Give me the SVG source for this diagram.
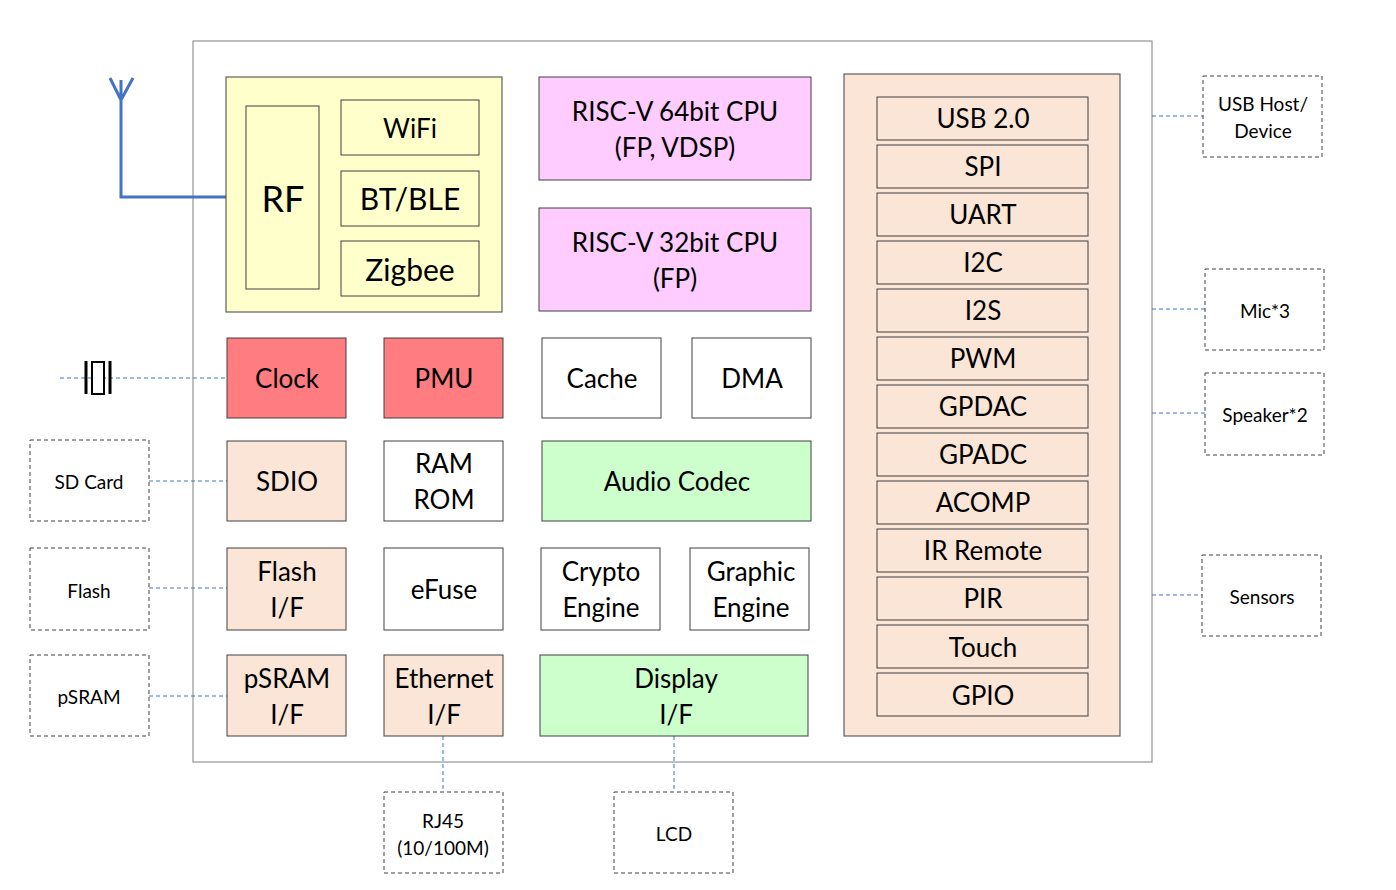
<svg xmlns="http://www.w3.org/2000/svg" width="1396" height="890" viewBox="0 0 1396 890">
<style>
text{font-family:Lato,"Open Sans","Liberation Sans",sans-serif;fill:#000;text-anchor:middle;dominant-baseline:central}
.b{stroke:#404040;stroke-width:1}
.t{font-size:26px}
.s{font-size:19px}
.ext{fill:#fff;stroke:#404040;stroke-dasharray:4 3}
.c{stroke:#4472C4;stroke-width:1;stroke-dasharray:4 3;fill:none}
.pk{fill:#FFCCFF}.rd{fill:#FF7C80}.pe{fill:#FBE5D6}.gr{fill:#CCFFCC}.wh{fill:#fff}.ye{fill:#FFFFCC}
</style>
<rect width="1396" height="890" fill="#fff"/>
<rect x="193" y="41" width="959" height="721" fill="#fff" stroke="#7f7f7f"/>
<g id="connectors">
<path class="c" d="M1152 116H1203M1152 309H1205M1152 413H1205M1152 595H1202M149 481H227M149 588H227M149 696H227M60 378H227M443 736V792M674 736V792"/>
<path d="M121 80V197H246M110 78L121 100L133 78" fill="none" stroke="#4472C4" stroke-width="3"/>
<g stroke="#000" stroke-width="3"><path d="M86 361V394M110 361V394"/></g>
<rect x="92" y="362" width="12" height="32" fill="#fff" stroke="#000" stroke-width="2"/>
</g>
<g id="rfgroup"><rect class="b ye" x="226" y="77" width="276" height="235"/></g>
<g id="rf"><rect class="b ye" x="246" y="106" width="73" height="183"/><text x="283" y="198" font-size="36">RF</text></g>
<g id="wifi"><rect class="b ye" x="341" y="100" width="138" height="55"/><text class="t" x="410" y="128" font-size="30">WiFi</text></g>
<g id="bt"><rect class="b ye" x="341" y="171" width="138" height="55"/><text x="410" y="198" font-size="30">BT/BLE</text></g>
<g id="zigbee"><rect class="b ye" x="341" y="241" width="138" height="55"/><text x="410" y="269" font-size="30">Zigbee</text></g>
<g id="cpu64"><rect class="b pk" x="539" y="77" width="272" height="103"/><text class="t" x="675" y="111">RISC-V 64bit CPU</text><text class="t" x="675" y="147">(FP, VDSP)</text></g>
<g id="cpu32"><rect class="b pk" x="539" y="208" width="272" height="103"/><text class="t" x="675" y="242">RISC-V 32bit CPU</text><text class="t" x="675" y="278">(FP)</text></g>
<g id="clock"><rect class="b rd" x="227" y="338" width="119" height="80"/><text class="t" x="287" y="378">Clock</text></g>
<g id="pmu"><rect class="b rd" x="384" y="338" width="119" height="80"/><text class="t" x="444" y="378">PMU</text></g>
<g id="cache"><rect class="b wh" x="542" y="338" width="119" height="80"/><text class="t" x="602" y="378">Cache</text></g>
<g id="dma"><rect class="b wh" x="692" y="338" width="119" height="80"/><text class="t" x="752" y="378">DMA</text></g>
<g id="sdio"><rect class="b pe" x="227" y="441" width="119" height="80"/><text class="t" x="287" y="481">SDIO</text></g>
<g id="ram"><rect class="b wh" x="384" y="441" width="119" height="80"/><text class="t" x="444" y="463">RAM</text><text class="t" x="444" y="499">ROM</text></g>
<g id="audio"><rect class="b gr" x="542" y="441" width="269" height="80"/><text class="t" x="677" y="481">Audio Codec</text></g>
<g id="flashif"><rect class="b pe" x="227" y="548" width="119" height="82"/><text class="t" x="287" y="571">Flash</text><text class="t" x="287" y="607">I/F</text></g>
<g id="efuse"><rect class="b wh" x="384" y="548" width="119" height="82"/><text class="t" x="444" y="589">eFuse</text></g>
<g id="crypto"><rect class="b wh" x="541" y="548" width="119" height="82"/><text class="t" x="601" y="571">Crypto</text><text class="t" x="601" y="607">Engine</text></g>
<g id="graphic"><rect class="b wh" x="690" y="548" width="119" height="82"/><text class="t" x="751" y="571">Graphic</text><text class="t" x="751" y="607">Engine</text></g>
<g id="psramif"><rect class="b pe" x="227" y="655" width="119" height="81"/><text class="t" x="287" y="678">pSRAM</text><text class="t" x="287" y="714">I/F</text></g>
<g id="eth"><rect class="b pe" x="384" y="655" width="119" height="81"/><text class="t" x="444" y="678">Ethernet</text><text class="t" x="444" y="714">I/F</text></g>
<g id="display"><rect class="b gr" x="540" y="655" width="268" height="81"/><text class="t" x="676" y="678">Display</text><text class="t" x="676" y="714">I/F</text></g>
<g id="periph"><rect class="b pe" x="844" y="74" width="276" height="662"/></g>
<g id="usb"><rect class="b pe" x="877" y="97" width="211" height="43"/><text class="t" x="983" y="118">USB 2.0</text></g>
<g id="spi"><rect class="b pe" x="877" y="145" width="211" height="43"/><text class="t" x="983" y="166">SPI</text></g>
<g id="uart"><rect class="b pe" x="877" y="193" width="211" height="43"/><text class="t" x="983" y="214">UART</text></g>
<g id="i2c"><rect class="b pe" x="877" y="241" width="211" height="43"/><text class="t" x="983" y="262">I2C</text></g>
<g id="i2s"><rect class="b pe" x="877" y="289" width="211" height="43"/><text class="t" x="983" y="310">I2S</text></g>
<g id="pwm"><rect class="b pe" x="877" y="337" width="211" height="43"/><text class="t" x="983" y="358">PWM</text></g>
<g id="gpdac"><rect class="b pe" x="877" y="385" width="211" height="43"/><text class="t" x="983" y="406">GPDAC</text></g>
<g id="gpadc"><rect class="b pe" x="877" y="433" width="211" height="43"/><text class="t" x="983" y="454">GPADC</text></g>
<g id="acomp"><rect class="b pe" x="877" y="481" width="211" height="43"/><text class="t" x="983" y="502">ACOMP</text></g>
<g id="ir"><rect class="b pe" x="877" y="529" width="211" height="43"/><text class="t" x="983" y="550">IR Remote</text></g>
<g id="pir"><rect class="b pe" x="877" y="577" width="211" height="43"/><text class="t" x="983" y="598">PIR</text></g>
<g id="touch"><rect class="b pe" x="877" y="625" width="211" height="43"/><text class="t" x="983" y="647">Touch</text></g>
<g id="gpio"><rect class="b pe" x="877" y="673" width="211" height="43"/><text class="t" x="983" y="695">GPIO</text></g>
<g id="usbhost"><rect class="ext" x="1203" y="76" width="119" height="81"/><text class="s" x="1263" y="103">USB Host/</text><text class="s" x="1263" y="130">Device</text></g>
<g id="mic"><rect class="ext" x="1205" y="269" width="119" height="81"/><text class="s" x="1265" y="310">Mic*3</text></g>
<g id="speaker"><rect class="ext" x="1205" y="373" width="119" height="82"/><text class="s" x="1265" y="414">Speaker*2</text></g>
<g id="sensors"><rect class="ext" x="1202" y="555" width="119" height="81"/><text class="s" x="1262" y="596">Sensors</text></g>
<g id="sdcard"><rect class="ext" x="30" y="440" width="119" height="81"/><text class="s" x="89" y="481">SD Card</text></g>
<g id="flash"><rect class="ext" x="30" y="548" width="119" height="82"/><text class="s" x="89" y="590">Flash</text></g>
<g id="psram"><rect class="ext" x="30" y="655" width="119" height="81"/><text class="s" x="89" y="696">pSRAM</text></g>
<g id="rj45"><rect class="ext" x="384" y="792" width="119" height="81"/><text class="s" x="443" y="820">RJ45</text><text class="s" x="443" y="847">(10/100M)</text></g>
<g id="lcd"><rect class="ext" x="614" y="792" width="119" height="81"/><text class="s" x="674" y="833">LCD</text></g>
</svg>
